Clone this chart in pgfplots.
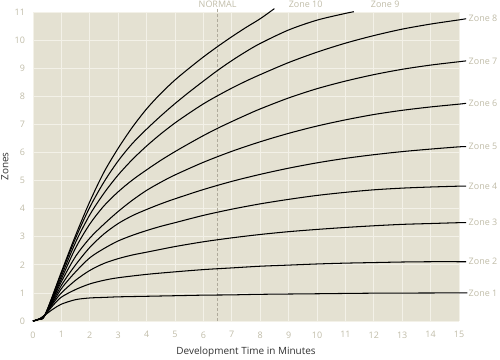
\documentclass[border=0pt]{standalone}
\usepackage{pgfplots}
\pgfplotsset{compat=1.18}
\usepackage{fontspec}
\setmainfont{Open Sans}
\definecolor{bgc}{RGB}{228,225,210}
\definecolor{gridc}{RGB}{243,241,232}
\definecolor{lblc}{RGB}{192,188,168}
\definecolor{axc}{RGB}{50,50,50}
\definecolor{normc}{RGB}{175,170,155}
\pgfplotsset{zc/.style={black, solid, line width=1.05pt, smooth, mark=none}}
\begin{document}
\begin{tikzpicture}
\begin{axis}[
  scale only axis, width=426bp, height=309bp,
  xmin=0, xmax=15, ymin=0, ymax=11,
  xtick={0,...,15}, ytick={0,...,11},
  axis line style={draw=none},
  major tick length=0pt,
  grid=major, major grid style={gridc, line width=0.8pt},
  axis background/.style={fill=bgc},
  tick label style={font=\fontsize{9}{10}\selectfont, text=lblc},
  /pgf/number format/assume math mode=true,
  xticklabel style={yshift=-7bp},
  yticklabel style={xshift=-4.5bp},
  xlabel={Development Time in Minutes}, ylabel={Zones},
  label style={font=\fontsize{10}{12}\selectfont, text=axc},
  xlabel style={at={(axis description cs:0.5,-0.1003)}, anchor=center},
  ylabel style={at={(axis description cs:-0.066,0.5)}, anchor=center},
  clip=false,
]
% NORMAL line
\addplot[normc, line width=0.6pt, densely dashed, sharp plot, mark=none] coordinates {(6.5,0) (6.5,11.15)};
% Zone 1
\addplot[zc] coordinates {(0,0) (0.2,0.06) (0.42,0.21) (0.7,0.42) (1,0.6) (1.5,0.76) (2,0.82) (2.5,0.84) (3,0.86) (4,0.88) (5,0.9) (6,0.92) (7,0.93) (8,0.95) (10,0.97) (12,0.99) (15,1.0) (15.25,1.0)};
% Zone 2
\addplot[zc] coordinates {(0,0) (0.2,0.06) (0.42,0.21) (0.7,0.55) (1,0.85) (1.5,1.12) (2,1.32) (2.5,1.45) (3,1.54) (4,1.66) (5,1.75) (6,1.83) (7,1.89) (8,1.95) (9,1.99) (10,2.03) (11,2.06) (12,2.08) (13,2.1) (14,2.11) (15,2.11) (15.25,2.11)};
% Zone 3
\addplot[zc] coordinates {(0,0) (0.2,0.06) (0.42,0.21) (0.7,0.62) (1,1.0) (1.5,1.45) (2,1.8) (2.5,2.05) (3,2.22) (3.5,2.35) (4,2.45) (5,2.65) (6,2.82) (7,2.96) (8,3.08) (9,3.18) (10,3.26) (11,3.33) (12,3.39) (13,3.44) (14,3.47) (15,3.5) (15.25,3.5)};
% Zone 4
\addplot[zc] coordinates {(0,0) (0.2,0.06) (0.42,0.21) (1,1.15) (1.5,1.75) (2,2.25) (2.5,2.58) (3,2.85) (3.5,3.05) (4,3.22) (4.5,3.37) (5,3.5) (6,3.76) (7,3.98) (8,4.17) (9,4.33) (10,4.47) (11,4.58) (12,4.67) (13,4.73) (14,4.77) (15,4.8) (15.25,4.8)};
% Zone 5
\addplot[zc] coordinates {(0,0) (0.2,0.06) (0.42,0.21) (1,1.27) (1.5,2.0) (2,2.62) (2.5,3.1) (3,3.47) (3.5,3.75) (4,3.97) (4.5,4.17) (5,4.35) (6,4.68) (7,4.97) (8,5.22) (9,5.44) (10,5.63) (11,5.79) (12,5.92) (13,6.03) (14,6.12) (15,6.2) (15.25,6.21)};
% Zone 6
\addplot[zc] coordinates {(0,0) (0.2,0.06) (0.42,0.21) (1,1.4) (1.5,2.3) (2,2.95) (2.5,3.45) (3,3.9) (3.5,4.3) (4,4.65) (4.5,4.94) (5,5.2) (6,5.65) (7,6.04) (8,6.38) (9,6.68) (10,6.94) (11,7.16) (12,7.35) (13,7.5) (14,7.62) (15,7.72) (15.25,7.75)};
% Zone 7
\addplot[zc] coordinates {(0,0) (0.2,0.06) (0.42,0.21) (1,1.5) (1.5,2.6) (2,3.45) (2.5,4.1) (3,4.6) (3.5,5.02) (4,5.38) (4.5,5.72) (5,6.03) (5.5,6.32) (6,6.6) (6.5,6.86) (7,7.1) (7.5,7.33) (8,7.55) (9,7.94) (10,8.27) (11,8.54) (12,8.77) (13,8.96) (14,9.11) (15,9.23) (15.25,9.26)};
% Zone 8
\addplot[zc] coordinates {(0,0) (0.2,0.06) (0.42,0.21) (1,1.6) (1.5,2.8) (2,3.78) (2.5,4.55) (3,5.2) (3.5,5.75) (4,6.23) (4.5,6.66) (5,7.05) (5.5,7.4) (6,7.73) (6.5,8.02) (7,8.29) (7.5,8.54) (8,8.77) (9,9.2) (10,9.57) (11,9.89) (12,10.16) (13,10.39) (14,10.57) (15,10.72) (15.25,10.76)};
% Zone 9
\addplot[zc] coordinates {(0,0) (0.2,0.06) (0.42,0.21) (1,1.7) (1.5,2.95) (2,4.05) (2.5,4.95) (3,5.7) (3.5,6.32) (4,6.83) (4.5,7.3) (5,7.74) (5.5,8.15) (6,8.54) (6.5,8.92) (7,9.27) (7.5,9.59) (8,9.88) (9,10.36) (10,10.71) (11,10.95) (11.3,11.01)};
% Zone 10
\addplot[zc] coordinates {(0,0) (0.2,0.06) (0.42,0.21) (1,1.75) (1.5,3.05) (2,4.25) (2.5,5.3) (3,6.15) (3.5,6.9) (4,7.55) (4.5,8.1) (5,8.58) (5.5,9.0) (6,9.4) (6.5,9.77) (7,10.12) (7.5,10.45) (8,10.76) (8.5,11.12)};
% labels
\begin{scope}[every node/.style={font=\fontsize{9}{10}\selectfont, text=lblc, inner sep=1bp}]
\node[anchor=west] at (axis cs:15.3,1.0) {Zone 1};
\node[anchor=west] at (axis cs:15.3,2.11) {Zone 2};
\node[anchor=west] at (axis cs:15.3,3.5) {Zone 3};
\node[anchor=west] at (axis cs:15.3,4.8) {Zone 4};
\node[anchor=west] at (axis cs:15.3,6.21) {Zone 5};
\node[anchor=west] at (axis cs:15.3,7.75) {Zone 6};
\node[anchor=west] at (axis cs:15.3,9.26) {Zone 7};
\node[anchor=west] at (axis cs:15.3,10.76) {Zone 8};
\node[anchor=center] at (axis cs:6.5,11.27) {NORMAL};
\node[anchor=center] at (axis cs:9.6,11.27) {Zone 10};
\node[anchor=center] at (axis cs:12.4,11.27) {Zone 9};
\end{scope}
\end{axis}
\pgfresetboundingbox
\path ([xshift=-33bp,yshift=-39bp]current axis.south west) rectangle ([xshift=41bp,yshift=12bp]current axis.north east);
\end{tikzpicture}
\end{document}
